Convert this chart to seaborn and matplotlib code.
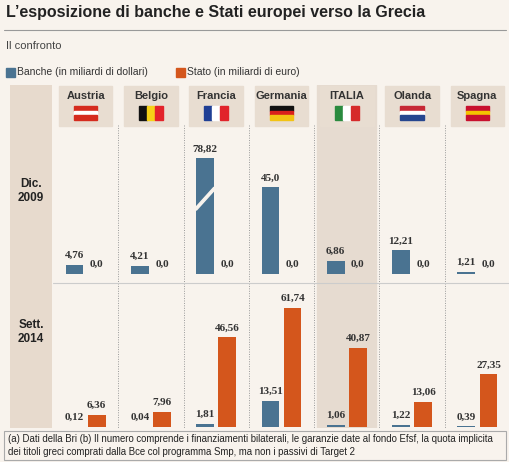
import numpy as np
import pandas as pd
import matplotlib
matplotlib.use("Agg")
import matplotlib.pyplot as plt
from matplotlib.patches import Rectangle, Polygon
import seaborn as sns

countries = ["Austria", "Belgio", "Francia", "Germania", "ITALIA", "Olanda", "Spagna"]
banche_2009 = [4.76, 4.21, 78.82, 45.0, 6.86, 12.21, 1.21]
stato_2009 = [0.0, 0.0, 0.0, 0.0, 0.0, 0.0, 0.0]
banche_2014 = [0.12, 0.04, 1.81, 13.51, 1.06, 1.22, 0.39]
stato_2014 = [6.36, 7.96, 46.56, 61.74, 40.87, 13.06, 27.35]
periods = ["Dic.\n2009", "Sett.\n2014"]
series = ["Banche (in miliardi di dollari)", "Stato (in miliardi di euro)"]

BLUE = "#4a7391"
ORANGE = "#d4561c"
BG = "#f8f3ed"
BEIGE = "#e7dacd"
HILITE = "#e6dbd0"
W, H = 510, 462

sns.set_theme(style="white")
plt.rcParams["font.family"] = ["Liberation Sans", "DejaVu Sans"]

fig = plt.figure(figsize=(W / 100, H / 100), dpi=100, facecolor=BG)


def fx(px):
    return px / W


def fy(py):
    return 1 - py / H


# title block
fig.text(fx(6), fy(13), "L’esposizione di banche e Stati europei verso la Grecia",
         fontsize=11.5, fontweight="bold", color="#222222", va="center")
fig.add_artist(plt.Line2D([fx(4), fx(506)], [fy(30), fy(30)], color="#999999", lw=0.8))
fig.text(fx(6), fy(46), "Il confronto", fontsize=8, color="#444444", va="center")
for x0, col, lab in [(6, BLUE, series[0]), (176, ORANGE, series[1])]:
    fig.add_artist(Rectangle((fx(x0), fy(77)), fx(9), 9 / H, color=col))
    fig.text(fx(x0 + 11), fy(72), lab, fontsize=7.5, color="#333333", va="center")

# background panels
left_col = fig.add_axes([fx(10), fy(428), fx(42), (428 - 85) / H])
left_col.set_facecolor(BEIGE)
left_col.set_xticks([]); left_col.set_yticks([])
for s in left_col.spines.values():
    s.set_visible(False)
left_col.text(0.5, 0.69, periods[0], ha="center", va="center", fontsize=8.5,
              fontweight="bold", transform=left_col.transAxes, color="#222222")
left_col.text(0.5, 0.28, periods[1], ha="center", va="center", fontsize=8.5,
              fontweight="bold", transform=left_col.transAxes, color="#222222")

col0 = 53

# full-height overlay axis for column separators, highlight, headers
over = fig.add_axes([fx(col0), fy(428), fx(510 - col0), (428 - 85) / H])
over.set_xlim(-0.5, 6.5)
over.set_ylim(428, 85)
over.set_facecolor("none")
over.axis("off")
over.add_patch(Rectangle((3.55, 85), 0.9, 343, color=HILITE, zorder=0))
for i in range(1, 7):
    over.plot([i - 0.5, i - 0.5], [125, 428], ls=(0, (1, 1.5)), color="#999999", lw=0.7)
over.plot([-0.5, 6.5], [283, 283], color="#cccccc", lw=0.8)

flags = {
    "Austria": ("h", ["#d52b1e", "white", "#d52b1e"]),
    "Belgio": ("v", ["#111111", "#f7d217", "#e3232b"]),
    "Francia": ("v", ["#1f3f95", "white", "#e1232b"]),
    "Germania": ("h", ["#111111", "#d9201c", "#f2c313"]),
    "ITALIA": ("v", ["#2a8a3e", "white", "#d62a2a"]),
    "Olanda": ("h", ["#c62835", "white", "#26468f"]),
    "Spagna": ("h", ["#c8102e", "#f4c300", "#c8102e"]),
}
for i, c in enumerate(countries):
    over.add_patch(Rectangle((i - 0.41, 86), 0.82, 40, color="#e8ddd1", zorder=1))
    over.text(i, 96, c, ha="center", va="center", fontsize=8, fontweight="bold",
              color="#333333", zorder=3)
    kind, cols = flags[c]
    fw, fh = 0.36, 14
    x0, y0 = i - fw / 2, 106
    for k, fc in enumerate(cols):
        if kind == "v":
            over.add_patch(Rectangle((x0 + k * fw / 3, y0), fw / 3, fh, color=fc, zorder=3))
        else:
            over.add_patch(Rectangle((x0, y0 + k * fh / 3), fw, fh / 3, color=fc, zorder=3))


def fmt(v):
    s = f"{v:.1f}" if v in (0.0, 45.0) else f"{v:.2f}"
    return s.replace(".", ",")


def panel(top, bottom, base, banche, stato, clip=None):
    ax = fig.add_axes([fx(col0), fy(bottom), fx(510 - col0), (bottom - top) / H])
    df = pd.DataFrame({
        "paese": countries * 2,
        "serie": [series[0]] * 7 + [series[1]] * 7,
        "valore": list(banche) + list(stato),
    })
    df["disegno"] = df["valore"] if clip is None else df["valore"].clip(upper=clip)
    sns.barplot(data=df, x="paese", y="disegno", hue="serie", palette=[BLUE, ORANGE],
                width=0.68, gap=0.2, legend=False, ax=ax, saturation=1, linewidth=0)
    scale = 1.93
    ax.set_ylim(-(bottom - base) / scale, (base - top) / scale)
    ax.set_xlim(-0.5, 6.5)
    ax.set_facecolor("none")
    ax.axis("off")
    for cont, vals in zip(ax.containers, [banche, stato]):
        for bar, v in zip(cont, vals):
            x = bar.get_x() + bar.get_width() / 2
            h = bar.get_height()
            ax.text(x, h + 2.5, fmt(v), ha="center", va="bottom", fontsize=8,
                    fontweight="bold", family=["Liberation Serif", "DejaVu Serif"],
                    color="#333333")
            if clip is not None and v > clip:
                bw = bar.get_width()
                ax.add_patch(Polygon([(x - bw / 2, h * 0.55), (x + bw / 2, h * 0.72),
                                      (x + bw / 2, h * 0.75), (x - bw / 2, h * 0.58)],
                                     closed=True, color=BG, zorder=5))
    return ax


panel(130, 283, 274, banche_2009, stato_2009, clip=60)
panel(287, 430, 427, banche_2014, stato_2014)

# footer
fig.add_artist(Rectangle((fx(4), fy(460)), fx(502), 29 / H, fill=False, ec="#aaaaaa", lw=0.8))
fig.text(fx(8), fy(439), "(a) Dati della Bri (b) Il numero comprende i finanziamenti bilaterali, le garanzie date al fondo Efsf, la quota implicita",
         fontsize=6.9, color="#222222", va="center")
fig.text(fx(8), fy(452), "dei titoli greci comprati dalla Bce col programma Smp, ma non i passivi di Target 2",
         fontsize=6.9, color="#222222", va="center")

fig.savefig("out.png", dpi=100, facecolor=BG)
